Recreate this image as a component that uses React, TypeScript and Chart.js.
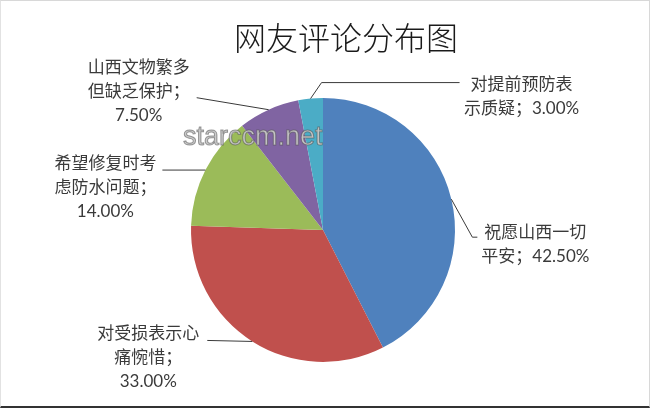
import React, { useEffect, useRef } from "react";
import { Chart, registerables } from "chart.js";

Chart.register(...registerables);

const TITLE = "网友评论分布图";
const WATERMARK = "starccm.net";
const categories = [
  "祝愿山西一切平安",
  "对受损表示心痛惋惜",
  "希望修复时考虑防水问题",
  "山西文物繁多但缺乏保护",
  "对提前预防表示质疑",
];
const values = [42.5, 33.0, 14.0, 7.5, 3.0];
const colors = ["#4F81BD", "#C0504D", "#9BBB59", "#8064A2", "#4BACC6"];

// label placement relative to the slice's mid-edge point
const labelLayout = [
  { dx: 84, dy: 33, path: [[21, 38], [26, 38]] },
  { dx: -104, dy: -8, path: [[-45, -1]] },
  { dx: -100, dy: -7, path: [[-43, 0]] },
  { dx: -130, dy: -42, path: [[-72, -12]] },
  { dx: 211, dy: -14, path: [[11, -16], [149, -16]] },
];

function labelLines(name: string, value: number): string[] {
  const pct = value.toFixed(2) + "%";
  const chunks: string[] = [];
  for (let i = 0; i < name.length; i += 6) chunks.push(name.slice(i, i + 6));
  const last = chunks.pop() as string;
  const lines = [...chunks];
  if (last.length + pct.length <= 8 && chunks.length > 0) {
    lines.push(last + "；" + pct);
  } else {
    lines.push(last + "；");
    lines.push(pct);
  }
  return lines;
}

const LABEL_FONT = '17px "Lato", "Noto Sans CJK SC", sans-serif';

const annotatePlugin = {
  id: "annotate",
  afterDraw(chart: any) {
    const ctx = chart.ctx as CanvasRenderingContext2D;
    const meta = chart.getDatasetMeta(0);
    ctx.save();
    // title
    ctx.fillStyle = "#1a1a1a";
    ctx.font = '300 32px "Noto Sans CJK SC", sans-serif';
    ctx.textAlign = "center";
    ctx.textBaseline = "middle";
    ctx.fillText(TITLE, 346, 38);

    meta.data.forEach((arc: any, i: number) => {
      const mid = (arc.startAngle + arc.endAngle) / 2;
      const ex = arc.x + Math.cos(mid) * arc.outerRadius;
      const ey = arc.y + Math.sin(mid) * arc.outerRadius;
      const lay = labelLayout[i];
      ctx.strokeStyle = "#3a3a3a";
      ctx.lineWidth = 1;
      ctx.beginPath();
      ctx.moveTo(ex, ey);
      lay.path.forEach(([px, py]) => ctx.lineTo(ex + px, ey + py));
      ctx.stroke();

      const lines = labelLines(categories[i], values[i]);
      ctx.fillStyle = "#3a3a3a";
      ctx.font = LABEL_FONT;
      ctx.textAlign = "center";
      ctx.textBaseline = "middle";
      lines.forEach((ln, k) => {
        ctx.fillText(ln, ex + lay.dx, ey + lay.dy + k * 24);
      });
    });

    // watermark
    ctx.font = '27px "Liberation Sans", Arial, sans-serif';
    ctx.textAlign = "left";
    ctx.textBaseline = "alphabetic";
    ctx.lineWidth = 1;
    ctx.strokeStyle = "rgba(80,80,80,0.55)";
    ctx.fillStyle = "rgba(200,200,200,0.95)";
    ctx.fillText(WATERMARK, 183, 145);
    ctx.strokeText(WATERMARK, 183, 145);
    ctx.restore();
  },
};

export default function App() {
  const ref = useRef<HTMLCanvasElement | null>(null);
  useEffect(() => {
    document.body.style.margin = "0";
    if (!ref.current) return;
    const chart = new Chart(ref.current, {
      type: "pie",
      data: {
        labels: categories,
        datasets: [
          {
            data: values,
            backgroundColor: colors,
            borderWidth: 0,
          },
        ],
      },
      options: {
        animation: false,
        responsive: true,
        maintainAspectRatio: false,
        layout: { padding: { left: 191, right: 195, top: 98, bottom: 46 } },
        plugins: {
          legend: { display: false },
          tooltip: { enabled: false },
          title: { display: false },
        },
      },
      plugins: [annotatePlugin],
    });
    return () => chart.destroy();
  }, []);
  return (
    <div
      style={{
        position: "absolute",
        left: 0,
        top: 0,
        width: 650,
        height: 408,
        background: "#fff",
      }}
    >
      <canvas ref={ref} />
      <div
        style={{
          position: "absolute",
          left: 0,
          top: 0,
          width: 650,
          height: 408,
          boxSizing: "border-box",
          pointerEvents: "none",
          borderTop: "1px solid #d8d8d8",
          borderLeft: "1px solid #e2e2e2",
          borderRight: "1px solid #d8d8d8",
          borderBottom: "2px solid #333",
        }}
      />
    </div>
  );
}
